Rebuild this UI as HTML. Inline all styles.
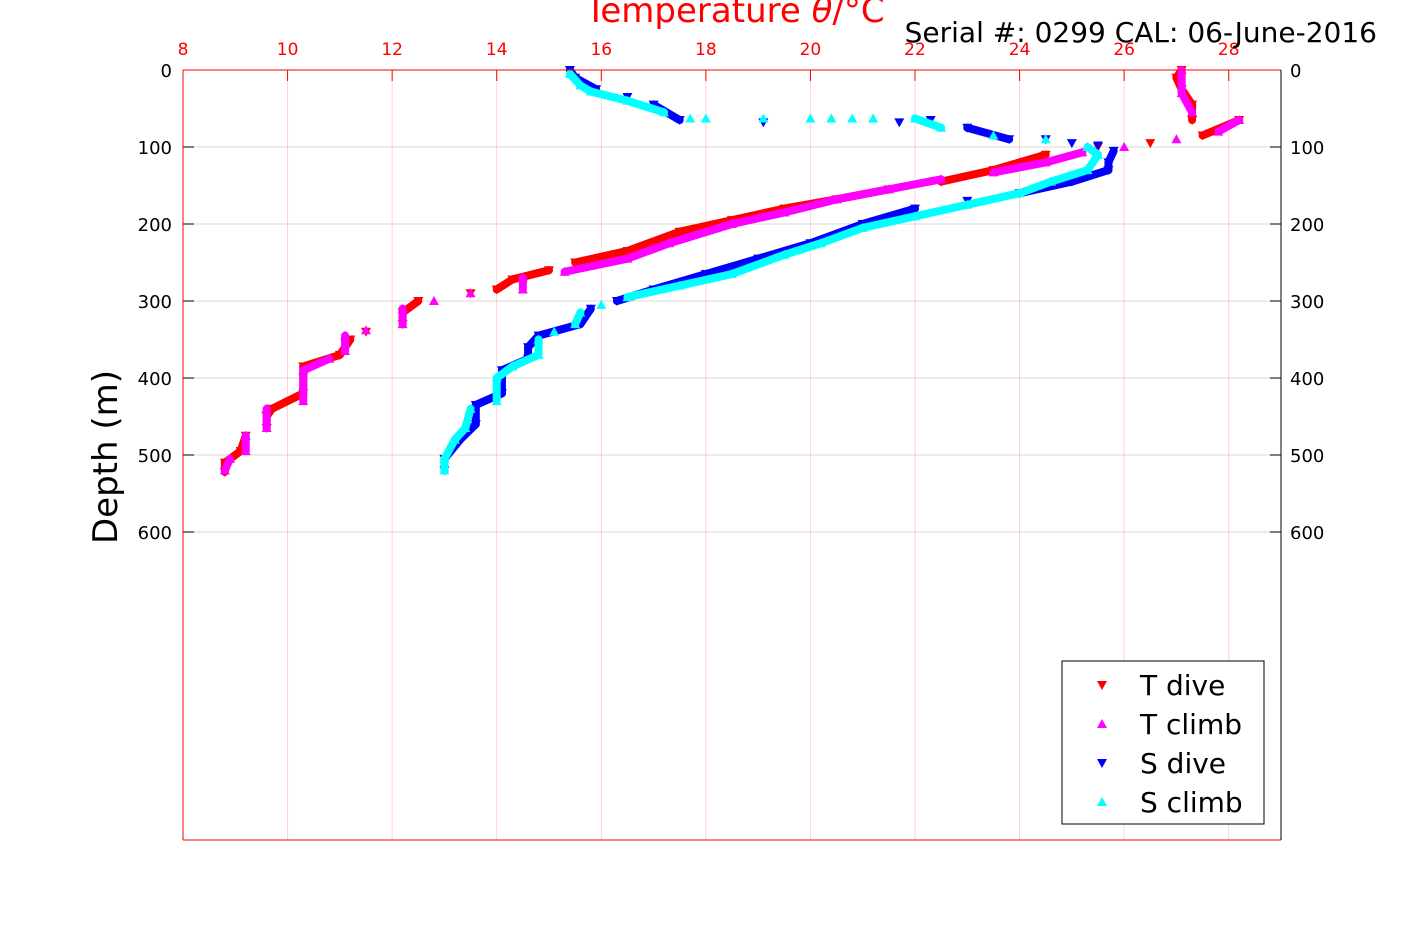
<!DOCTYPE html>
<html><head><meta charset="utf-8"><style>
body{margin:0;background:#fff;}
svg{display:block;font-family:"DejaVu Sans","Liberation Sans",sans-serif;}
</style></head><body>
<svg id="chart" width="1417" height="945" viewBox="0 0 1417 945" xmlns="http://www.w3.org/2000/svg">
<g id="grid"></g>
<g id="series"></g>
<g id="axes"></g>
<text x="735" y="22" text-anchor="middle" font-size="34" fill="#ff0000">Temperature <tspan font-style="italic">θ</tspan>/°C</text>
<text x="1377" y="42" text-anchor="end" font-size="28" fill="#000">Serial #: 0299 CAL: 06-June-2016</text>
<text transform="translate(117,457) rotate(-90)" text-anchor="middle" font-size="34" fill="#000">Depth (m)</text>
<g id="legend"></g>
</svg>
<script>
const xTicks=[8,10,12,14,16,18,20,22,24,26,28];
const yTicks=[0,100,200,300,400,500,600];
const tDive=[[27.1,0],[27.0,10],[27.1,25],[27.3,45],[27.3,65],[28.2,65],[27.5,85],[26.5,95],[25.5,100],[24.5,110],[23.5,130],[22.5,145],[21.5,155],[20.5,168],[19.5,180],[18.5,195],[17.5,210],[16.5,235],[15.5,250],[15.0,260],[14.3,272],[14.0,285],[13.5,290],[12.5,300],[12.2,315],[12.2,330],[11.5,340],[11.2,350],[11.0,370],[10.3,385],[10.3,420],[9.7,440],[9.6,450],[9.6,465],[9.2,475],[9.1,495],[8.8,510],[8.8,522]];
const tClimb=[[8.8,520],[8.9,505],[9.2,495],[9.2,475],[9.6,465],[9.6,440],[10.3,430],[10.3,390],[10.8,375],[11.1,365],[11.1,345],[11.5,338],[12.2,330],[12.2,310],[12.8,300],[13.5,290],[14.5,285],[14.5,270],[15.3,262],[16.5,245],[17.3,225],[18.5,200],[19.5,185],[20.5,168],[21.5,155],[22.5,142],[23.5,133],[24.5,120],[25.2,107],[26.0,100],[27.0,90],[27.8,80],[28.2,65],[27.3,55],[27.1,30],[27.1,0]];
const sDive=[[15.4,0],[15.5,10],[15.9,25],[16.5,35],[17.0,45],[17.5,65],[19.1,68],[21.7,68],[22.3,65],[23.0,75],[23.8,90],[24.5,90],[25.0,95],[25.5,98],[25.8,105],[25.7,120],[25.7,130],[25.0,145],[24.0,160],[23.0,170],[22.0,180],[21.0,200],[20.0,225],[19.0,245],[18.0,265],[17.0,285],[16.3,300],[15.8,310],[15.6,330],[14.8,345],[14.6,360],[14.6,375],[14.1,390],[14.1,420],[13.6,435],[13.6,460],[13.3,480],[13.0,505],[13.0,520]];
const sClimb=[[13.0,520],[13.0,505],[13.2,480],[13.4,465],[13.5,440],[14.0,430],[14.0,400],[14.3,385],[14.8,370],[14.8,350],[15.1,340],[15.5,330],[15.6,315],[16.0,305],[16.5,295],[17.5,280],[18.5,265],[19.5,240],[20.2,225],[21.0,205],[22.0,190],[23.0,175],[24.0,160],[24.6,145],[25.3,130],[25.5,110],[25.3,100],[24.5,90],[23.5,85],[22.5,75],[22.0,63],[21.2,63],[20.8,63],[20.4,63],[20.0,63],[19.1,63],[18.0,63],[17.7,63],[17.2,55],[16.5,40],[15.8,28],[15.6,20],[15.4,5]];
const seriesNames=["T dive","T climb","S dive","S climb"];
const seriesColors=["#ff0000","#ff00ff","#0000ff","#00ffff"];

const NS="http://www.w3.org/2000/svg";
const L=183,R=1281,T=70,B=840,xMin=8,xMax=29,yMin=0,yMax=1000;
const xs=v=>L+(v-xMin)/(xMax-xMin)*(R-L);
const ys=v=>T+(v-yMin)/(yMax-yMin)*(B-T);
function mk(tag,attrs,parent){const e=document.createElementNS(NS,tag);for(const k in attrs)e.setAttribute(k,attrs[k]);parent.appendChild(e);return e;}
const grid=document.getElementById('grid'),axes=document.getElementById('axes'),ser=document.getElementById('series'),leg=document.getElementById('legend');
xTicks.forEach(v=>{
 const g=mk('line',{x1:xs(v),x2:xs(v),y1:T,y2:B,stroke:'#ff0000','stroke-opacity':0.18,'stroke-width':1},grid);
 
 
 const t=mk('line',{x1:xs(v),x2:xs(v),y1:T,y2:T+11,stroke:'#ff0000','stroke-width':1},axes);
 
 
 const tl=mk('text',{x:xs(v),y:55,'text-anchor':'middle','font-size':17,fill:'#ff0000'},axes);
 tl.textContent=v;
 
 
});
yTicks.forEach(v=>{
 const g=mk('line',{x1:L,x2:R,y1:ys(v),y2:ys(v),stroke:'#000','stroke-opacity':0.15,'stroke-width':1},grid);
 
 
 [[L,L+11],[R,R-11]].forEach(p=>{const t=mk('line',{x1:p[0],x2:p[1],y1:ys(v),y2:ys(v),stroke:'#000','stroke-width':1},axes);
 
 });
 const a=mk('text',{x:172,y:ys(v)+7,'text-anchor':'end','font-size':18,fill:'#000'},axes);
 a.textContent=v;
 
 
 const b=mk('text',{x:1290,y:ys(v)+7,'text-anchor':'start','font-size':18,fill:'#000'},axes);
 b.textContent=v;
 
 
});
[[L,T,R,T,'#ff0000'],[L,B,R,B,'#ff0000'],[L,T,L,B,'#ff0000'],[R,T,R,B,'#000']].forEach(s=>{
 const l=mk('line',{x1:s[0],y1:s[1],x2:s[2],y2:s[3],stroke:s[4],'stroke-width':1},axes);
 
 
});
function marker(x,y,up,color,parent){
 const d=up?`M${x-5},${y+4}L${x+5},${y+4}L${x},${y-5}Z`:`M${x-5},${y-4}L${x+5},${y-4}L${x},${y+5}Z`;
 return mk('path',{d:d,fill:color},parent);
}
[tDive,tClimb,sDive,sClimb].forEach((data,i)=>{
 const g=mk('g',{},ser);
 
 
 const up=i%2===1;
 for(let k=1;k<data.length;k++){
  const x1=xs(data[k-1][0]),y1=ys(data[k-1][1]),x2=xs(data[k][0]),y2=ys(data[k][1]);
  const sparse=Math.abs(y2-y1)<8&&Math.abs(x2-x1)>15;
  if(!sparse){
   const s=mk('line',{x1:x1,y1:y1,x2:x2,y2:y2,stroke:seriesColors[i],'stroke-width':8,'stroke-linecap':'round'},g);
   
   
  }
 }
 data.forEach(p=>{const m=marker(xs(p[0]),ys(p[1]),up,seriesColors[i],g);
  
  });
});
const box=mk('rect',{x:1062,y:661,width:202,height:163,fill:'#fff',stroke:'#000','stroke-width':1},leg);


seriesNames.forEach((n,i)=>{
 const y=685+i*39;
 const m=marker(1102,y,i%2===1,seriesColors[i],leg);
 
 
 const t=mk('text',{x:1140,y:y+10,'font-size':28,fill:'#000'},leg);
 t.textContent=n;
 
 
});
</script>
</body></html>
